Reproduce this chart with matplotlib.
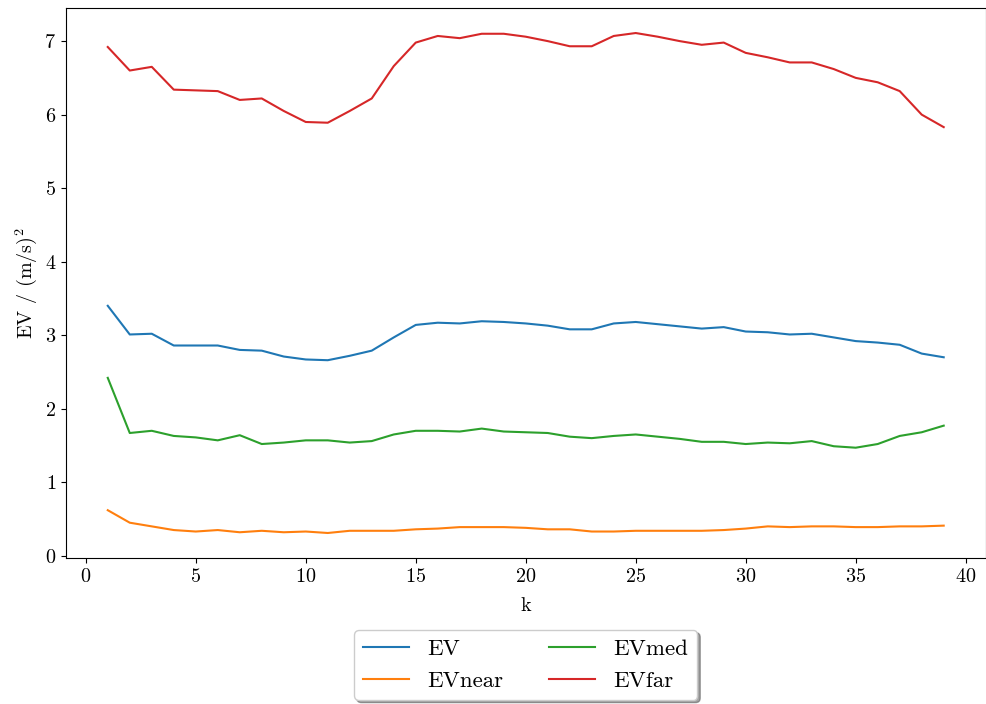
import numpy as np
import matplotlib
matplotlib.use("Agg")
import matplotlib.pyplot as plt

plt.rcParams['font.family'] = 'serif'
plt.rcParams['font.serif'] = ['cmr10', 'DejaVu Serif']
plt.rcParams['mathtext.fontset'] = 'cm'
plt.rcParams['axes.formatter.use_mathtext'] = True
plt.rcParams['font.size'] = 14.5

k = np.arange(1, 40)

ev = [3.40, 3.01, 3.02, 2.86, 2.86, 2.86, 2.80, 2.79, 2.71, 2.67,
      2.66, 2.72, 2.79, 2.97, 3.14, 3.17, 3.16, 3.19, 3.18, 3.16,
      3.13, 3.08, 3.08, 3.16, 3.18, 3.15, 3.12, 3.09, 3.11, 3.05,
      3.04, 3.01, 3.02, 2.97, 2.92, 2.90, 2.87, 2.75, 2.70]

ev_near = [0.62, 0.45, 0.40, 0.35, 0.33, 0.35, 0.32, 0.34, 0.32, 0.33,
           0.31, 0.34, 0.34, 0.34, 0.36, 0.37, 0.39, 0.39, 0.39, 0.38,
           0.36, 0.36, 0.33, 0.33, 0.34, 0.34, 0.34, 0.34, 0.35, 0.37,
           0.40, 0.39, 0.40, 0.40, 0.39, 0.39, 0.40, 0.40, 0.41]

ev_med = [2.42, 1.67, 1.70, 1.63, 1.61, 1.57, 1.64, 1.52, 1.54, 1.57,
          1.57, 1.54, 1.56, 1.65, 1.70, 1.70, 1.69, 1.73, 1.69, 1.68,
          1.67, 1.62, 1.60, 1.63, 1.65, 1.62, 1.59, 1.55, 1.55, 1.52,
          1.54, 1.53, 1.56, 1.49, 1.47, 1.52, 1.63, 1.68, 1.77]

ev_far = [6.92, 6.60, 6.65, 6.34, 6.33, 6.32, 6.20, 6.22, 6.05, 5.90,
          5.89, 6.05, 6.22, 6.66, 6.98, 7.07, 7.04, 7.10, 7.10, 7.06,
          7.00, 6.93, 6.93, 7.07, 7.11, 7.06, 7.00, 6.95, 6.98, 6.84,
          6.78, 6.71, 6.71, 6.62, 6.50, 6.44, 6.32, 6.00, 5.83]

fig = plt.figure(figsize=(9.86, 7.04), dpi=100)
ax = fig.add_axes([0.0669, 0.2074, 0.9326, 0.7812])

ax.plot(k, ev, label='EV')
ax.plot(k, ev_near, label='EVnear')
ax.plot(k, ev_med, label='EVmed')
ax.plot(k, ev_far, label='EVfar')

ax.set_xlabel('k', labelpad=8)
ax.set_ylabel('EV / (m/s)$^2$')
ax.legend(loc='upper center', bbox_to_anchor=(0.5, -0.11), ncol=2,
          shadow=True, fontsize=16.5)

fig.savefig('out.png', dpi=100)
